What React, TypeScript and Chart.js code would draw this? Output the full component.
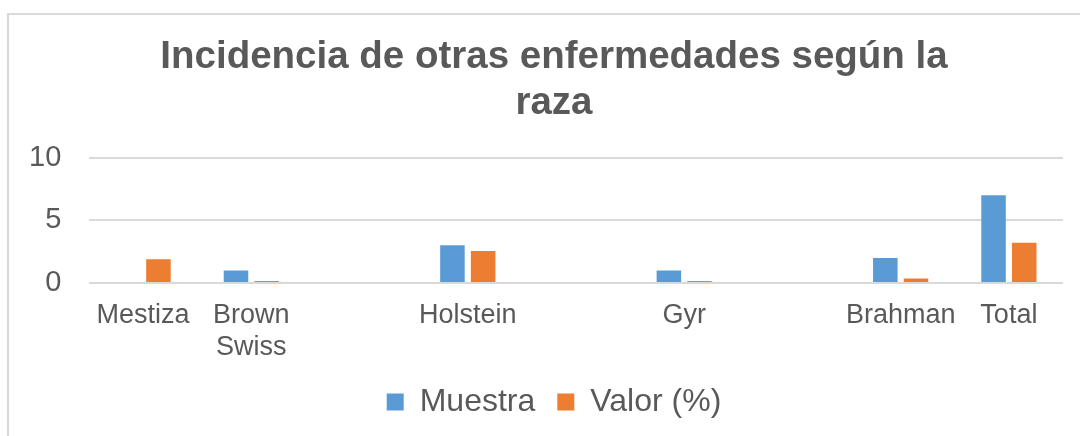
import React, { useEffect, useRef } from 'react';
import { Chart, registerables } from 'chart.js';

Chart.register(...registerables);

const titleLines = ['Incidencia de otras enfermedades según la', 'raza'];
const categories: (string | string[])[] = ['Mestiza', ['Brown', 'Swiss'], '', 'Holstein', '', 'Gyr', '', 'Brahman', 'Total'];
const muestra: (number | null)[] = [0, 1, null, 3, null, 1, null, 2, 7];
const valor: (number | null)[] = [1.9, 0.16, null, 2.55, null, 0.16, null, 0.35, 3.2];
const seriesNames = ['Muestra', 'Valor (%)'];
const yMin = 0;
const yMax = 10;
const yStep = 5;

const FONT = "'Liberation Sans', Arial, sans-serif";
const TEXT = '#595959';
const GRID = '#d9d9d9';

export default function App() {
  const ref = useRef<HTMLCanvasElement | null>(null);

  useEffect(() => {
    if (!ref.current) return;
    const chart = new Chart(ref.current, {
      type: 'bar',
      data: {
        labels: categories,
        datasets: [
          {
            label: seriesNames[0],
            data: muestra,
            backgroundColor: '#5B9BD5',
            borderWidth: 0,
            categoryPercentage: 0.567,
            barPercentage: 0.8,
          },
          {
            label: seriesNames[1],
            data: valor,
            backgroundColor: '#ED7D31',
            borderWidth: 0,
            categoryPercentage: 0.567,
            barPercentage: 0.8,
          },
        ],
      },
      options: {
        responsive: false,
        animation: false,
        layout: { padding: { left: 45, right: 17, top: 0, bottom: 8 } },
        plugins: {
          title: {
            display: true,
            text: titleLines,
            color: TEXT,
            font: { family: FONT, size: 38.5, weight: 'bold', lineHeight: 1.2 },
            padding: { top: 34.4, bottom: 30.7 },
          },
          legend: {
            display: true,
            position: 'bottom',
            labels: {
              boxWidth: 17,
              boxHeight: 17,
              padding: 22,
              color: TEXT,
              font: { family: FONT, size: 32 },
            },
          },
          tooltip: { enabled: false },
        },
        scales: {
          x: {
            grid: { display: false, drawTicks: false },
            border: { display: false },
            ticks: {
              color: TEXT,
              font: { family: FONT, size: 27, lineHeight: 1.17 },
              padding: 17,
              maxRotation: 0,
              autoSkip: false,
            },
            afterFit: (axis: any) => {
              axis.height = 81;
            },
          },
          y: {
            min: yMin,
            max: yMax,
            grid: { color: GRID, lineWidth: 2, drawTicks: false },
            border: { display: false },
            ticks: {
              stepSize: yStep,
              color: TEXT,
              font: { family: FONT, size: 29 },
              mirror: true,
              crossAlign: 'far',
              padding: -60,
            },
            afterFit: (axis: any) => {
              axis.width = 44;
            },
          },
        },
      },
    });
    return () => chart.destroy();
  }, []);

  return (
    <div style={{ position: 'fixed', left: 0, top: 0, width: 1080, height: 436, overflow: 'hidden', background: '#fff' }}>
      <div
        style={{
          position: 'absolute',
          left: 7,
          top: 13,
          width: 1200,
          height: 600,
          border: '2px solid #d9d9d9',
          boxSizing: 'border-box',
        }}
      />
      <canvas ref={ref} width={1080} height={436} style={{ position: 'absolute', left: 0, top: 0, width: 1080, height: 436 }} />
    </div>
  );
}
